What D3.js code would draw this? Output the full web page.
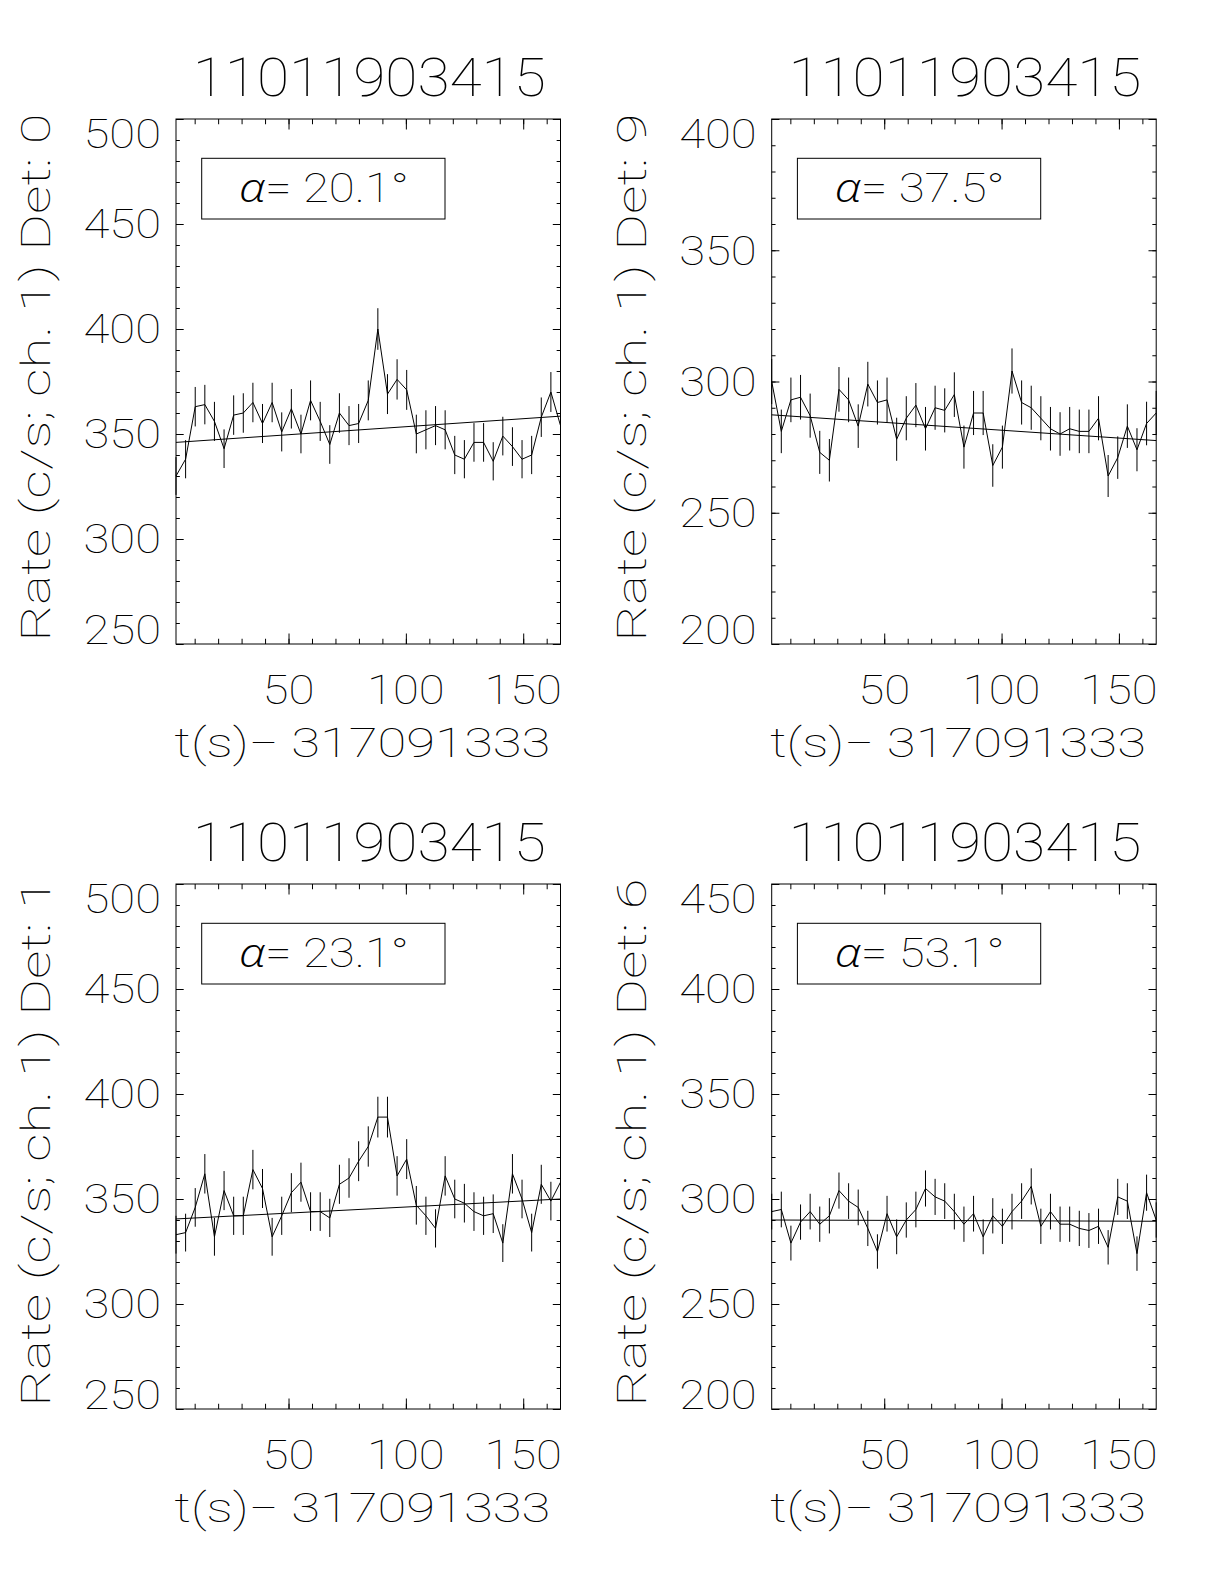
<!DOCTYPE html>
<html><head><meta charset="utf-8">
<script src="https://cdn.jsdelivr.net/npm/d3@7"></script>
<style>
html,body{margin:0;padding:0;background:#fff;}
svg text{font-family:Roboto,"DejaVu Sans",sans-serif;font-weight:100;fill:#000;}
svg text tspan.greek{font-family:"Open Sans","Noto Sans","DejaVu Sans",sans-serif;font-weight:300;font-style:italic;}
</style></head><body>
<svg id="chart" width="1224" height="1584"></svg>
<script>
// ---------------- data ----------------
const obsId = "11011903415";
const timeOffset = "317091333";
const times = [2.05, 6.14, 10.24, 14.34, 18.43, 22.53, 26.62, 30.72, 34.82, 38.91,
  43.01, 47.10, 51.20, 55.30, 59.39, 63.49, 67.58, 71.68, 75.78, 79.87,
  83.97, 88.06, 92.16, 96.26, 100.35, 104.45, 108.54, 112.64, 116.74, 120.83,
  124.93, 129.02, 133.12, 137.22, 141.31, 145.41, 149.50, 153.60, 157.70, 161.79, 165.89];

const detectors = ["0", "9", "1", "6"];
const alphas = ["20.1", "37.5", "23.1", "53.1"];

const rateDet0 = [330, 338, 363, 364, 356, 343, 359, 360, 365, 355, 365, 351, 362, 350, 366, 356, 345, 360, 354, 355,
  366, 400, 369, 376, 371, 350, 352, 354, 352, 340, 338, 346, 346, 337, 349, 344, 338, 340, 358, 370, 354];
const errDet0 = [9.0, 9.1, 9.4, 9.4, 9.3, 9.2, 9.4, 9.4, 9.4, 9.3, 9.4, 9.3, 9.4, 9.2, 9.5, 9.3, 9.2, 9.4, 9.3, 9.3,
  9.5, 9.9, 9.5, 9.6, 9.5, 9.2, 9.3, 9.3, 9.3, 9.1, 9.1, 9.2, 9.2, 9.1, 9.2, 9.2, 9.1, 9.1, 9.4, 9.5, 9.3];
const fitDet0 = [346, 358.5];

const rateDet9 = [300, 281, 293, 294, 287, 273, 270, 297, 293, 283, 299, 292, 293, 278, 286, 291, 282, 290, 289, 295,
  275, 288, 288, 268, 275, 304, 292, 290, 286, 282, 280, 282, 281, 281, 286, 264, 271, 283, 274, 284, 288];
const errDet9 = [8.6, 8.3, 8.5, 8.5, 8.4, 8.2, 8.1, 8.5, 8.5, 8.3, 8.5, 8.4, 8.5, 8.2, 8.4, 8.4, 8.3, 8.4, 8.4, 8.5,
  8.2, 8.4, 8.4, 8.1, 8.2, 8.6, 8.4, 8.4, 8.4, 8.3, 8.3, 8.3, 8.3, 8.3, 8.4, 8.0, 8.1, 8.3, 8.2, 8.3, 8.4];
const fitDet9 = [287.3, 277.5];

const rateDet1 = [333, 334, 346, 362, 332, 354, 342, 342, 364, 355, 332, 342, 353, 358, 344, 344, 341, 357, 360, 368,
  375, 389, 389, 361, 369, 347, 342, 336, 361, 350, 348, 344, 342, 343, 329, 362, 350, 334, 357, 349, 358];
const errDet1 = [9.0, 9.0, 9.2, 9.4, 9.0, 9.3, 9.1, 9.1, 9.4, 9.3, 9.0, 9.1, 9.3, 9.3, 9.2, 9.2, 9.1, 9.3, 9.4, 9.5,
  9.6, 9.7, 9.7, 9.4, 9.5, 9.2, 9.1, 9.1, 9.4, 9.2, 9.2, 9.2, 9.1, 9.2, 9.0, 9.4, 9.2, 9.0, 9.3, 9.2, 9.3];
const fitDet1 = [340.5, 350];

const rateDet6 = [294, 295, 279, 289, 294, 288, 292, 304, 299, 296, 286, 275, 293, 282, 290, 295, 305, 301, 299, 294,
  288, 293, 282, 292, 287, 294, 299, 306, 287, 294, 288, 288, 286, 285, 287, 277, 301, 299, 274, 303, 290];
const errDet6 = [8.5, 8.5, 8.3, 8.4, 8.5, 8.4, 8.4, 8.6, 8.5, 8.5, 8.4, 8.2, 8.5, 8.3, 8.4, 8.5, 8.6, 8.6, 8.5, 8.5,
  8.4, 8.5, 8.3, 8.4, 8.4, 8.5, 8.5, 8.6, 8.4, 8.5, 8.4, 8.4, 8.4, 8.3, 8.4, 8.2, 8.6, 8.5, 8.2, 8.6, 8.4];
const fitDet6 = [290, 289.4];

const xTickLabels = [50, 100, 150];
const xMinorTicks = [10, 20, 30, 40, 50, 60, 70, 80, 90, 100, 110, 120, 130, 140, 150, 160];
const yTicksDet0 = [250, 300, 350, 400, 450, 500];
const yTicksDet9 = [200, 250, 300, 350, 400];
const yTicksDet1 = [250, 300, 350, 400, 450, 500];
const yTicksDet6 = [200, 250, 300, 350, 400, 450];

// ---------------- layout ----------------
const plotW = 384.5, plotH = 525;
const panels = [
  {left: 176,   top: 119, rates: rateDet0, errs: errDet0, fit: fitDet0, yTicks: yTicksDet0, det: detectors[0], alpha: alphas[0]},
  {left: 771.7, top: 119, rates: rateDet9, errs: errDet9, fit: fitDet9, yTicks: yTicksDet9, det: detectors[1], alpha: alphas[1]},
  {left: 176,   top: 884, rates: rateDet1, errs: errDet1, fit: fitDet1, yTicks: yTicksDet1, det: detectors[2], alpha: alphas[2]},
  {left: 771.7, top: 884, rates: rateDet6, errs: errDet6, fit: fitDet6, yTicks: yTicksDet6, det: detectors[3], alpha: alphas[3]}
];

const svg = d3.select("#chart");
svg.append("rect").attr("width", 1224).attr("height", 1584).attr("fill", "#fff");

const numLen = s => String(s).length * 25.5 + 1; // drawn width of a number label

panels.forEach(p => {
  const g = svg.append("g");
  const left = p.left, top = p.top, right = left + plotW, bottom = top + plotH;
  const x = d3.scaleLinear().domain([times[0], times[times.length - 1]]).range([left, right]);
  const yDom = d3.extent(p.yTicks);
  const y = d3.scaleLinear().domain(yDom).range([bottom, top]);
  const yMinor = d3.range(yDom[0], yDom[1] + 0.001, 10);

  const strip = sel => { sel.select(".domain").remove(); sel.selectAll("line").attr("stroke", "#000").attr("stroke-width", 1); sel.selectAll("text").remove(); };

  g.append("g").attr("transform", `translate(0,${bottom})`).call(d3.axisBottom(x).tickValues(xMinorTicks).tickSize(-5.25).tickFormat("")).call(strip);
  g.append("g").attr("transform", `translate(0,${bottom})`).call(d3.axisBottom(x).tickValues(xTickLabels).tickSize(-10.5).tickFormat("")).call(strip);
  g.append("g").attr("transform", `translate(0,${top})`).call(d3.axisTop(x).tickValues(xMinorTicks).tickSize(-5.25).tickFormat("")).call(strip);
  g.append("g").attr("transform", `translate(0,${top})`).call(d3.axisTop(x).tickValues(xTickLabels).tickSize(-10.5).tickFormat("")).call(strip);
  g.append("g").attr("transform", `translate(${left},0)`).call(d3.axisLeft(y).tickValues(yMinor).tickSize(-3.85).tickFormat("")).call(strip);
  g.append("g").attr("transform", `translate(${left},0)`).call(d3.axisLeft(y).tickValues(p.yTicks).tickSize(-7.7).tickFormat("")).call(strip);
  g.append("g").attr("transform", `translate(${right},0)`).call(d3.axisRight(y).tickValues(yMinor).tickSize(-3.85).tickFormat("")).call(strip);
  g.append("g").attr("transform", `translate(${right},0)`).call(d3.axisRight(y).tickValues(p.yTicks).tickSize(-7.7).tickFormat("")).call(strip);

  g.append("rect").attr("x", left).attr("y", top).attr("width", plotW).attr("height", plotH)
    .attr("fill", "none").attr("stroke", "#000").attr("stroke-width", 1);

  const fsTick = 40, cap = 28.5;
  g.selectAll(".ylab").data(p.yTicks).join("text")
    .attr("x", left - 15)
    .attr("y", d => Math.min(bottom, Math.max(top + cap, y(d) + cap / 2)))
    .attr("text-anchor", "end").attr("font-size", fsTick)
    .attr("textLength", d => numLen(d)).attr("lengthAdjust", "spacingAndGlyphs")
    .text(d => d);

  g.selectAll(".xlab").data(xTickLabels).join("text")
    .attr("x", d => x(d)).attr("y", bottom + 60)
    .attr("text-anchor", "middle").attr("font-size", fsTick)
    .attr("textLength", d => numLen(d)).attr("lengthAdjust", "spacingAndGlyphs")
    .text(d => d);

  g.append("text").attr("x", (left + right) / 2 - 6).attr("y", bottom + 113)
    .attr("text-anchor", "middle").attr("font-size", fsTick)
    .attr("textLength", 376).attr("lengthAdjust", "spacingAndGlyphs")
    .text("t(s)\u2212 " + timeOffset);

  g.append("text").attr("transform", `translate(${left - 126},${(top + bottom) / 2 - 4}) rotate(-90)`)
    .attr("text-anchor", "middle").attr("font-size", fsTick)
    .attr("textLength", 528).attr("lengthAdjust", "spacingAndGlyphs")
    .text("Rate (c/s; ch. 1) Det: " + p.det);

  g.append("text").attr("x", (left + right) / 2 + 1).attr("y", top - 23)
    .attr("text-anchor", "middle").attr("font-size", 53)
    .attr("textLength", 353).attr("lengthAdjust", "spacingAndGlyphs")
    .text(obsId);

  g.selectAll(".err").data(p.rates).join("line")
    .attr("x1", (d, i) => x(times[i])).attr("x2", (d, i) => x(times[i]))
    .attr("y1", (d, i) => y(d - p.errs[i])).attr("y2", (d, i) => y(d + p.errs[i]))
    .attr("stroke", "#000").attr("stroke-width", 1);

  const line = d3.line().x((d, i) => x(times[i])).y(d => y(d));
  g.append("path").datum(p.rates).attr("d", line).attr("fill", "none").attr("stroke", "#000").attr("stroke-width", 1);

  const fitPts = [[times[0], p.fit[0]], [times[times.length - 1], p.fit[1]]];
  g.append("path").datum(fitPts).attr("d", d3.line().x(d => x(d[0])).y(d => y(d[1])))
    .attr("fill", "none").attr("stroke", "#000").attr("stroke-width", 1);

  g.append("rect").attr("x", left + 25.7).attr("y", top + 39.3).attr("width", 243.3).attr("height", 60.7)
    .attr("fill", "none").attr("stroke", "#000").attr("stroke-width", 1);
  const lt = g.append("text").attr("x", left + 63).attr("y", top + 83).attr("font-size", fsTick)
    .attr("textLength", 170).attr("lengthAdjust", "spacingAndGlyphs");
  lt.append("tspan").attr("class", "greek").text("\u03b1");
  lt.append("tspan").text("= " + p.alpha + "\u00b0");
});
</script>
</body></html>
